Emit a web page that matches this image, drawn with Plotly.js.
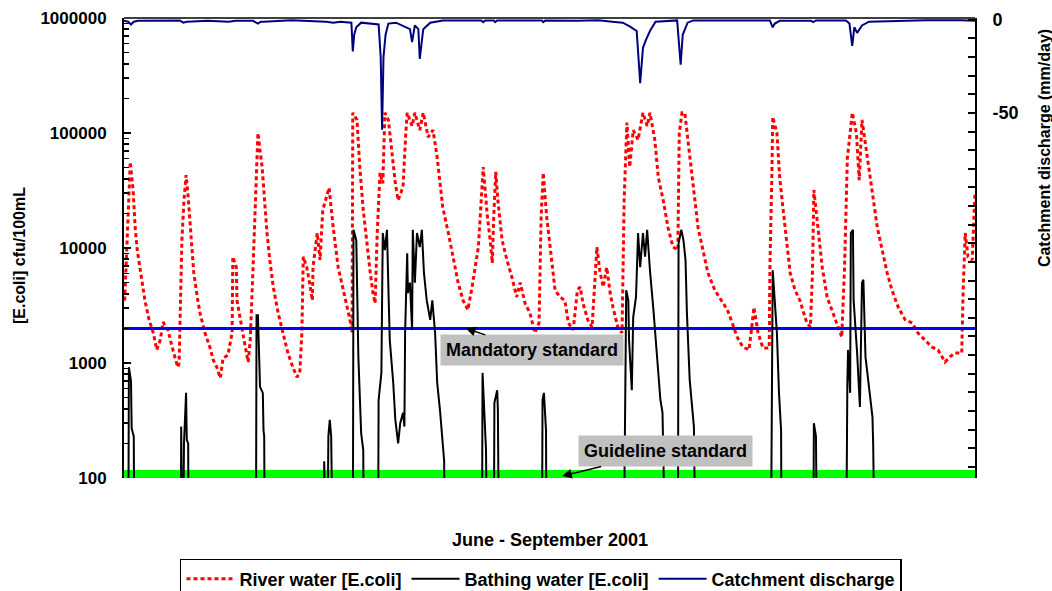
<!DOCTYPE html>
<html>
<head>
<meta charset="utf-8">
<script src="https://cdn.plot.ly/plotly-3.0.1.min.js"></script>
<style>html,body{margin:0;padding:0;background:#fff;}#chart{width:1052px;height:591px;}</style>
</head>
<body>
<div id="chart"></div>
<script>
// Days since 1 June 2001
var riverDay = [0.1,0.9,1.3,1.6,1.9,2.6,3.0,3.6,4.2,4.7,5.2,5.6,6.3,6.9,7.3,7.7,7.9,8.3,8.6,8.9,9.2,9.5,9.8,10.0,10.5,10.9,11.6,12.3,12.8,13.3,13.8,14.2,14.9,15.5,15.6,16.1,16.2,16.6,17.2,17.8,18.1,18.5,18.8,19.1,19.2,19.8,20.1,20.5,20.9,21.4,22.1,22.8,23.5,24.2,24.8,25.2,25.5,25.7,26.2,26.7,27.0,27.1,27.7,28.1,28.5,29.4,30.0,30.7,31.7,32.4,32.7,32.8,33.4,33.8,34.3,34.8,35.3,35.7,36.0,36.3,36.7,37.1,37.4,37.9,38.4,38.9,39.3,40.0,40.4,40.6,41.3,41.7,42.4,42.9,43.6,44.3,44.9,45.3,45.7,46.5,47.2,47.9,48.6,49.3,49.9,50.3,50.8,51.5,52.1,52.5,52.8,53.0,53.3,53.6,54.2,54.9,55.6,56.3,56.8,57.5,58.2,58.9,59.5,59.8,60.1,60.6,61.1,61.8,62.5,63.2,63.7,64.4,65.0,65.4,65.8,66.5,67.1,67.8,68.2,68.7,69.2,69.7,70.1,70.8,71.4,71.7,72.1,72.5,73.0,73.7,74.4,75.0,75.4,76.1,76.6,77.3,78.0,78.7,79.4,79.6,80.0,80.4,80.9,81.5,81.9,82.3,83.0,83.7,84.7,85.7,86.5,87.2,87.9,88.7,89.6,90.0,90.3,90.9,91.6,92.5,92.6,92.9,93.0,93.6,94.0,94.5,95.1,95.5,96.2,96.9,97.3,97.9,98.4,98.7,98.9,99.5,100.1,100.8,101.5,102.2,102.9,103.3,103.7,104.1,104.4,105.0,105.4,105.8,106.3,106.8,107.3,108.0,108.7,109.4,110.1,111.0,112.0,113.0,113.8,114.8,115.8,116.7,117.7,118.4,119.1,120.1,120.3,120.6,121.0,121.6,122.0];
var riverEcoli = [3500,56000,32000,15000,9600,5000,3500,2370,1830,1300,1590,2270,1940,1380,1130,920,1000,11700,26000,43000,27700,15000,9600,6100,3750,2720,1830,1380,1060,920,740,1100,1170,1830,8400,6800,3500,2500,1590,1020,1590,6800,18600,71000,100000,50600,26000,13500,7860,4580,2720,1830,1220,920,755,820,1830,8400,6800,4580,3500,6800,13500,7860,21400,33400,15000,6800,3750,2370,1830,150000,130000,50600,21400,11000,6100,4050,3300,13500,45000,36500,150000,130000,71000,36500,26000,34000,100000,150000,115000,150000,106000,150000,92000,106000,61000,36500,22500,13500,8400,5000,3500,2900,4580,6400,10200,50600,18600,11700,7400,18600,46000,26000,11700,7860,5600,3750,5000,3300,2720,1830,2230,18600,45000,18600,10000,4300,3750,3500,2230,1940,4300,4580,3300,2370,2050,10200,6400,4580,6800,4050,3050,2050,1830,26000,123000,50600,106000,87000,150000,115000,150000,87000,41000,26000,15000,10200,9600,100000,150000,150000,81000,41000,26000,15000,9600,6100,4300,3500,2900,2230,1680,1380,1300,2050,3050,1830,1350,1350,6800,50600,138000,100000,41000,21400,10200,6100,4300,3500,2900,2230,2050,6100,32000,15000,6800,3750,2900,2230,1680,6800,61000,100000,150000,100000,38800,130000,81000,50600,30000,15000,9600,6100,4300,3050,2370,2230,1830,1590,1380,1300,1020,1130,1220,1220,4300,13500,8400,7860,30000];

var bathDay = [0.6,0.7,1.0,1.1,1.4,1.5, 8.1,8.2,8.4,8.6,8.9,9.0,9.2,9.3, 18.9,19.0,19.2,19.5,19.9,20.0,20.1,20.2, 28.6,28.7,28.8,29.1,29.3,29.5,29.7,30.0, 32.8,32.9,33.3,33.4,33.5,33.6,34.0,34.3,34.4, 36.4,36.5,36.9,37.0,37.1,37.4,37.7,37.9,38.1,38.6,38.9,39.3,39.6,40.0,40.2,40.3,40.6,40.7,41.0,41.3,41.4,41.7,42.0,42.4,42.7,43.0,43.4,43.9,44.2,44.6,44.9,45.3,45.6,45.9,46.0, 51.3,51.4,51.6,51.9,52.1, 53.0,53.1,53.5,53.6,53.8, 59.9,60.0,60.2,60.5,60.6, 71.6,72.0,72.3,72.4,72.8,73.0,73.4,73.7,74.0,74.4,74.7,75.0,75.2,75.4,75.9,76.3,76.6,76.9,77.2,77.3,77.7, 79.4,79.5,79.9,80.2,80.5,80.7,81.1,81.7,82.0, 92.7,93.0,93.3,93.6,93.9,94.2,94.3, 98.8,98.9,99.2,99.4, 103.5,103.7,103.8,104.1,104.2,104.5,104.6,105.1,105.5,105.8,106.0,106.3,106.7,107.3,107.4,107.7];
var bathEcoli = [10,920,700,270,230,10, 10,280,10,200,550,215,200,10, 10,2600,2600,620,550,260,230,10, 10,140,10,10,230,320,230,10, 10,14400,11700,4050,3500,1130,245,175,10, 10,477,820,3500,13500,9600,14400,4580,1590,670,320,200,300,370,280,1830,9000,4050,5000,1940,14400,5000,13500,10200,14400,6100,3500,2370,3500,1830,670,390,215,140,10, 10,820,477,175,10, 10,450,580,390,10, 10,477,550,260,10, 10,4300,3500,1590,580,2500,3750,13500,6800,13500,8400,14400,9600,6400,2900,1300,755,477,370,230,10, 10,11000,14400,11700,7860,2720,710,280,10, 10,6400,3500,1830,550,260,10, 10,300,230,10, 10,670,1300,550,13500,14400,3500,1220,415,5000,5300,1130,670,340,200,10];

var dischDay = [0,0.6,1.0,1.4,2,8,8.5,9,12,15,16,18.5,19.2,19.6,20,24,29,30,31,32.6,32.8,33.0,33.3,34,36.5,36.8,37.0,37.2,37.5,37.9,39,40.6,41.0,41.3,41.7,42.2,42.4,42.9,43.9,45.7,51.2,51.5,51.8,53.0,53.2,53.5,59.9,60.1,60.4,65,68,70,71.5,72.5,73.5,74.0,74.4,74.8,75.1,75.4,76.2,79.3,79.8,80.1,80.8,81.6,87,92.6,93.0,93.3,94.0,98.5,98.8,99.2,103.5,104.0,104.4,104.7,105.1,105.8,106.8,111,115,120,122];
var dischMm = [-0.5,-1,-2.5,-1,-0.5,-0.3,-1.5,-1,-0.5,-1,-0.5,-0.5,-2,-1,-1,-0.2,-1,-1.5,-1,-1.5,-17,-8,-4,-1.5,-2.5,-20,-59,-20,-8,-2,-1.5,-4,-5,-12,-3,-5,-21,-5,-1.5,-0.3,-0.3,-1.2,-0.3,-0.3,-1.2,-0.3,-0.3,-1.2,-0.3,-0.5,-0.2,-1,-1.5,-3.5,-6,-34,-15,-11,-8,-6,-1,-0.3,-24,-8,-1.5,-0.3,-0.3,-0.3,-4,-2,-0.5,-0.5,-1.2,-0.3,-0.3,-2,-14,-4,-7,-3,-1,-0.5,-0.2,-0.2,-0.5];

var periodDays = [0, 122];
var mandatoryStandard = 2000;
var guidelineStandard = 100;

var leftTickVals = [100,1000,10000,100000,1000000];
var leftTickText = ['100','1000','10000','100000','1000000'];
var leftMinorVals = [];
[100,1000,10000,100000].forEach(function(d){ for (var k=2;k<=9;k++) leftMinorVals.push(d*k); });
var rightTickVals = [];
var rightTickText = [];
for (var v=-240; v<=0; v+=10){ rightTickVals.push(v); rightTickText.push((v===0||v===-50)? String(v):''); }

var FONT = 'Liberation Sans, Arial, sans-serif';

var traces = [
  {x: periodDays, y: [guidelineStandard, guidelineStandard], type:'scatter', mode:'lines',
   line:{color:'#00ff00', width:16}, showlegend:false, hoverinfo:'skip'},
  {x: riverDay, y: riverEcoli, type:'scatter', mode:'lines', name:'River water [E.coli]',
   line:{color:'#ff0000', width:3, dash:'4px,3px'}},
  {x: periodDays, y: [mandatoryStandard, mandatoryStandard], type:'scatter', mode:'lines',
   line:{color:'#0000ff', width:3}, showlegend:false, hoverinfo:'skip'},
  {x: bathDay, y: bathEcoli, type:'scatter', mode:'lines', name:'Bathing water [E.coli]',
   line:{color:'#000000', width:2}},
  {x: dischDay, y: dischMm, type:'scatter', mode:'lines', name:'Catchment discharge', yaxis:'y2',
   line:{color:'#000080', width:2}}
];

var layout = {
  width:1052, height:591,
  margin:{l:124, r:77, t:18, b:113, pad:0, autoexpand:false},
  paper_bgcolor:'#ffffff', plot_bgcolor:'#ffffff',
  font:{family:FONT, color:'#000', weight:'bold'},
  showlegend:true,
  xaxis:{range:periodDays, showticklabels:false, ticks:'', showgrid:false, zeroline:false, showline:false, fixedrange:true, automargin:false},
  yaxis:{type:'log', range:[2,6], tickmode:'array', tickvals:leftTickVals, ticktext:leftTickText, automargin:false,
    ticks:'inside', ticklen:7, tickwidth:2, tickcolor:'#000', showgrid:false, zeroline:false,
    showline:true, linecolor:'#000', linewidth:2, ticklabelstandoff:12,
    tickfont:{family:FONT, size:17, color:'#000', weight:'bold'},
    minor:{tickmode:'array', tickvals:leftMinorVals, ticks:'inside', ticklen:5, tickwidth:1.5, tickcolor:'#000', showgrid:false}},
  yaxis2:{overlaying:'y', side:'right', range:[-246,1], tickmode:'array', tickvals:rightTickVals, ticktext:rightTickText, automargin:false,
    ticks:'inside', ticklen:7, tickwidth:2, tickcolor:'#000', showgrid:false, zeroline:false,
    showline:true, linecolor:'#000', linewidth:2, ticklabelstandoff:12,
    tickfont:{family:FONT, size:18, color:'#000', weight:'bold'}},
  shapes:[{type:'line', xref:'paper', yref:'paper', x0:0, x1:1, y0:1, y1:1, line:{color:'#404040', width:2}}],
  legend:{orientation:'h', x:0.49, xanchor:'center', y:-0.176, yanchor:'top', itemwidth:48,
    bordercolor:'#000', borderwidth:1.5, bgcolor:'#fff',
    font:{family:FONT, size:18, color:'#000', weight:'bold'}},
  annotations:[
    {text:'[E.coli] cfu/100mL', xref:'paper', yref:'paper', x:-0.122, y:0.483, xanchor:'center', yanchor:'middle', textangle:-90, showarrow:false,
     font:{family:FONT, size:16, color:'#000', weight:'bold'}},
    {text:'Catchment discharge (mm/day)', xref:'paper', yref:'paper', x:1.081, y:0.717, xanchor:'center', yanchor:'middle', textangle:-90, showarrow:false,
     font:{family:FONT, size:16, color:'#000', weight:'bold'}},
    {text:'June - September 2001', xref:'paper', yref:'paper', x:0.5006, y:-0.135, xanchor:'center', yanchor:'middle', showarrow:false,
     font:{family:FONT, size:18, color:'#000', weight:'bold'}},
    {text:'Mandatory standard', xref:'x', yref:'y', x:49.0, y:Math.log10(mandatoryStandard), ax:66, ay:22,
     showarrow:true, arrowhead:2, arrowsize:1.3, arrowwidth:1.5, arrowcolor:'#000', bgcolor:'#c0c0c0', borderpad:5,
     font:{family:FONT, size:18, color:'#000', weight:'bold'}},
    {text:'Guideline standard', xref:'x', yref:'y', x:62.8, y:2.017, ax:103, ay:-25,
     showarrow:true, arrowhead:2, arrowsize:1.3, arrowwidth:1.5, arrowcolor:'#000', bgcolor:'#c0c0c0', borderpad:5,
     font:{family:FONT, size:18, color:'#000', weight:'bold'}}
  ]
};

Plotly.newPlot('chart', traces, layout, {displayModeBar:false, staticPlot:true});
</script>
</body>
</html>
